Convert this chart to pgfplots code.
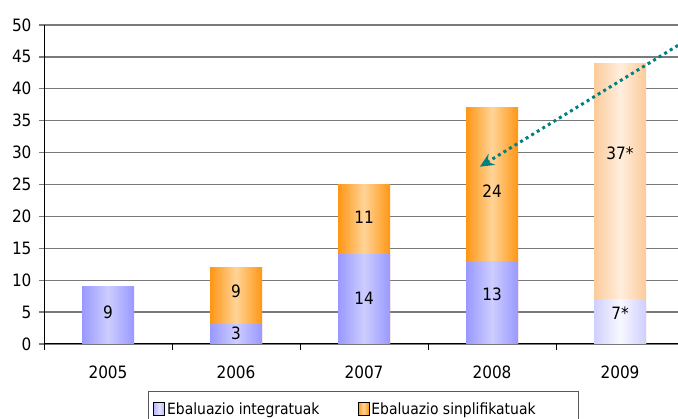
\documentclass[border=0pt]{standalone}
\usepackage{pgfplots}
\pgfplotsset{compat=1.18}
\usepackage{fontspec}
\setmainfont{DejaVu Sans Condensed}
\usetikzlibrary{arrows.meta}
\definecolor{pEdge}{HTML}{9999FF}
\definecolor{pMid}{HTML}{CDCDFF}
\definecolor{oEdge}{HTML}{FF9614}
\definecolor{oMid}{HTML}{FFD497}
\definecolor{lpEdge}{HTML}{CFCFFF}
\definecolor{lpMid}{HTML}{F8F8FF}
\definecolor{loEdge}{HTML}{FCCB9A}
\definecolor{loMid}{HTML}{FFEEDD}
\definecolor{arrowteal}{HTML}{00807F}
\definecolor{gridc}{HTML}{7A7A7A}
\pgfplotsset{
  gbar/.style 2 args={ybar, forget plot, bar width=52pt, bar shift=0pt, draw=none,
    left color=#1, right color=#1, middle color=#2},
}
\begin{document}
\begin{tikzpicture}
\begin{axis}[
  at={(0pt,0pt)}, anchor=south west,
  scale only axis, width=634pt, height=319pt,
  xmin=-0.5, xmax=4.453, ymin=0, ymax=50,
  ytick={0,5,...,50},
  xtick={0,1,2,3,4},
  xticklabels={2005,2006,2007,2008,2009},
  minor xtick={-0.5,0.5,1.5,2.5,3.5},
  axis x line*=bottom, axis y line*=left,
  axis line style={-, black, line width=1pt},
  ymajorgrids, grid style={gridc, line width=1.3pt},
  tick align=outside,
  major tick length=5pt, minor tick length=6pt,
  ytick style={gridc, line width=1.3pt},
  x tick style={black, line width=0.8pt},
  major x tick style={draw=none},
  tick label style={font=\fontsize{17}{20}\selectfont},
  /pgf/number format/assume math mode=true,
  xticklabel style={yshift=-13pt},
  yticklabel style={xshift=-4pt},
  legend columns=2,
  legend cell align=left,
  legend style={at={(0.164,-0.1473)}, anchor=north west,
    draw=gray!70!black, line width=0.8pt,
    font=\fontsize{15.5}{18}\selectfont,
    inner xsep=5pt, inner ysep=9pt,
    /tikz/every even column/.append style={column sep=36pt}},
  clip=false,
]
\addlegendimage{legend image code/.code={\shade[left color=pEdge!70, right color=pEdge!70, middle color=pMid!60] (-3pt,-6pt) rectangle (8pt,7pt);}}
\addlegendentry{Ebaluazio integratuak}
\addlegendimage{legend image code/.code={\shade[left color=oEdge, right color=oEdge, middle color=oMid] (-3pt,-6pt) rectangle (8pt,7pt);}}
\addlegendentry{\makebox[200pt][l]{Ebaluazio sinplifikatuak}}

% bar totals (orange part on top), one plot per bar so that each bar has its own shading
\addplot[gbar={oEdge}{oMid}] coordinates {(1,12)};
\addplot[gbar={oEdge}{oMid}] coordinates {(2,25)};
\addplot[gbar={oEdge}{oMid}] coordinates {(3,37)};
% integratuak
\addplot[gbar={pEdge}{pMid}] coordinates {(0,9)};
\addplot[gbar={pEdge}{pMid}] coordinates {(1,3)};
\addplot[gbar={pEdge}{pMid}] coordinates {(2,14)};
\addplot[gbar={pEdge}{pMid}] coordinates {(3,13)};
% 2009 (estimated, faded)
\addplot[gbar={loEdge}{loMid}] coordinates {(4,44)};
\addplot[gbar={lpEdge}{lpMid}] coordinates {(4,7)};
% value labels
\addplot[draw=none, mark=none, forget plot,
  nodes near coords, point meta=explicit symbolic,
  nodes near coords align={center},
  every node near coord/.append style={font=\fontsize{17}{20}\selectfont, text=black}]
  coordinates {(0,5.0)[9] (1,1.7)[3] (1,8.2)[9] (2,7.2)[14] (2,19.9)[11]
               (3,7.8)[13] (3,24.0)[24] (4,4.9)[7*] (4,29.9)[37*]};
\draw[arrowteal, line width=3pt, dash pattern=on 3pt off 3.5pt,
  -{Stealth[length=14pt,width=13pt,inset=5pt]}]
  (axis cs:4.453,46.8) -- (axis cs:2.906,27.8);
\end{axis}
\pgfresetboundingbox
\useasboundingbox (-44pt,-75pt) rectangle (634pt,344pt);
\end{tikzpicture}
\end{document}
